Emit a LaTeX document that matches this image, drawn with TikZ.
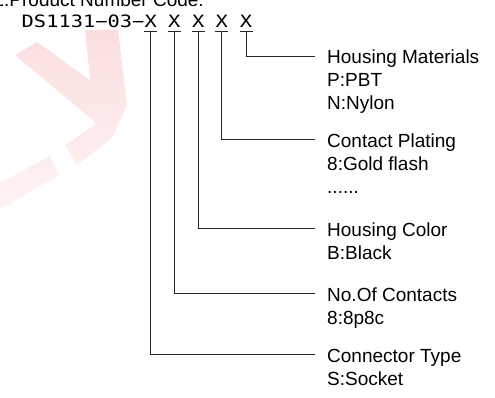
\documentclass[tikz,border=0pt]{standalone}
\usepackage{fontspec}
\setmainfont{Liberation Sans}
\newfontfamily\codefont[FakeStretch=1.2]{DejaVu Sans Mono}
\definecolor{wmtop}{RGB}{251,222,222}
\definecolor{wmbot}{RGB}{254,244,244}
\begin{document}
\begin{tikzpicture}[x=1pt,y=-1pt,
  lbl/.style={anchor=base west,inner sep=0pt,font=\fontsize{19}{23}\selectfont},
  codetxt/.style={anchor=base,inner sep=0pt,font=\codefont\fontsize{17}{20}\selectfont},
  lead/.style={line width=0.8pt,black!85}]
\useasboundingbox (0,0) rectangle (495,398);
% faint watermark
\shade[top color=wmtop,bottom color=wmbot,draw=none]
  (15,55) -- (37,42) -- (97,85) -- (95,122) -- cycle
  (85,30) -- (118,30) -- (127,105) -- (112,138) -- (77,165) -- (65,145) -- (95,125) -- cycle
  (50,156) -- (59,175) -- (0,210) -- (0,183) -- cycle;
% title
\node[anchor=base east,inner sep=0pt,font=\fontsize{19}{23}\selectfont] (title) at (204,7) {1.Product Number Code:};
% code
\node[codetxt,anchor=base west] (code) at (21.5,28) {DS1131\char"2212 03\char"2212};
\node[codetxt] (x1) at (150.7,28) {X};
\node[codetxt] (x2) at (174.3,28) {X};
\node[codetxt] (x3) at (198.3,28) {X};
\node[codetxt] (x4) at (221.7,28) {X};
\node[codetxt] (x5) at (246,28) {X};
\foreach \i in {1,...,5}{
  \coordinate (u\i) at ([yshift=-3pt]x\i.base);
  \draw[lead] ([xshift=-6.5pt]u\i) -- ([xshift=6.5pt]u\i);
}
% line ends
\coordinate (e5) at (315,56);
\coordinate (e4) at (315,139.5);
\coordinate (e3) at (315,228);
\coordinate (e2) at (315,293);
\coordinate (e1) at (315,354);
\foreach \i in {1,...,5}{\draw[lead] (u\i) |- (e\i);}
% labels
\node[lbl] (t5) at ([xshift=12pt,yshift=-8pt]e5) {Housing Materials};
\node[lbl] (s5a) at ([yshift=-23pt]t5.base west) {P:PBT};
\node[lbl] (s5b) at ([yshift=-23pt]s5a.base west) {N:Nylon};
\node[lbl] (t4) at ([xshift=12pt,yshift=-8pt]e4) {Contact Plating};
\node[lbl] (s4a) at ([yshift=-23pt]t4.base west) {8:Gold flash};
\node[lbl] (s4b) at ([yshift=-23pt]s4a.base west) {......};
\node[lbl] (t3) at ([xshift=12pt,yshift=-8pt]e3) {Housing Color};
\node[lbl] (s3a) at ([yshift=-23pt]t3.base west) {B:Black};
\node[lbl] (t2) at ([xshift=12pt,yshift=-8pt]e2) {No.Of Contacts};
\node[lbl] (s2a) at ([yshift=-23pt]t2.base west) {8:8p8c};
\node[lbl] (t1) at ([xshift=12pt,yshift=-8pt]e1) {Connector Type};
\node[lbl] (s1a) at ([yshift=-23pt]t1.base west) {S:Socket};
\end{tikzpicture}
\end{document}
